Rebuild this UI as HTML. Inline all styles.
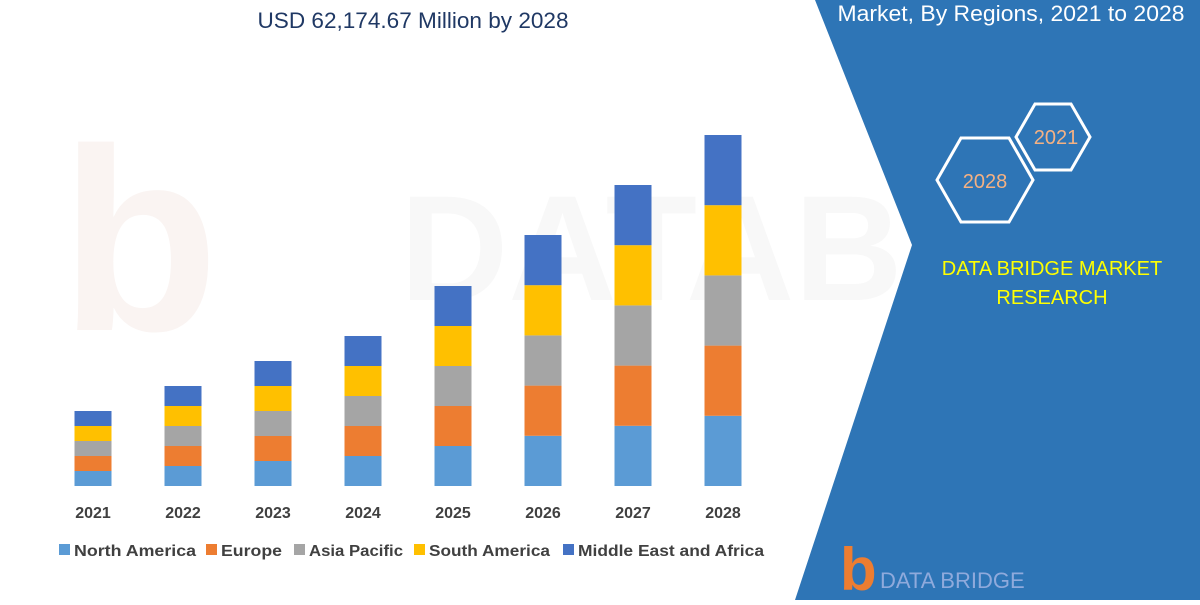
<!DOCTYPE html>
<html><head><meta charset="utf-8"><style>
body{margin:0;width:1200px;height:600px;overflow:hidden;background:#fff;font-family:"Liberation Sans",sans-serif}
</style></head><body>
<svg width="1200" height="600" xmlns="http://www.w3.org/2000/svg">
<rect width="1200" height="600" fill="#fff"/>
<text x="60" y="330" font-size="260" fill="#faf4f2" font-weight="bold">b</text>
<text x="400" y="300" font-size="150" fill="#f8f8f8" font-weight="bold">DATABRIDGE</text>
<polygon points="815,0 1200,0 1200,600 795,600 912,245" fill="#2e75b6"/>
<text x="413" y="28" font-size="22" fill="#1f3864" text-anchor="middle" textLength="311" lengthAdjust="spacingAndGlyphs">USD 62,174.67 Million by 2028</text>
<text x="1011" y="21" font-size="22" fill="#fff" text-anchor="middle" textLength="347" lengthAdjust="spacingAndGlyphs">Market,  By Regions, 2021 to 2028</text>
<polygon points="937,180 961,138 1009,138 1033,180 1009,222 961,222" fill="none" stroke="#fff" stroke-width="3"/>
<polygon points="1016,137 1035,104 1071,104 1090,137 1071,170 1035,170" fill="none" stroke="#fff" stroke-width="3"/>
<text x="985" y="188" font-size="20" fill="#f4b183" text-anchor="middle">2028</text>
<text x="1056" y="144" font-size="20" fill="#f4b183" text-anchor="middle">2021</text>
<text x="1052" y="275" font-size="20" fill="#ffff00" text-anchor="middle">DATA BRIDGE MARKET</text>
<text x="1052" y="304" font-size="20" fill="#ffff00" text-anchor="middle">RESEARCH</text>
<g id="bars"></g>
<g font-size="16" font-weight="bold" fill="#404040" text-anchor="middle">
<text x="93" y="518">2021</text><text x="183" y="518">2022</text><text x="273" y="518">2023</text><text x="363" y="518">2024</text><text x="453" y="518">2025</text><text x="543" y="518">2026</text><text x="633" y="518">2027</text><text x="723" y="518">2028</text>
</g>
<g font-size="16" font-weight="bold" fill="#404040">
<rect x="59" y="544" width="11" height="11" fill="#5b9bd5"/><text x="74" y="556" textLength="122" lengthAdjust="spacingAndGlyphs">North America</text>
<rect x="206" y="544" width="11" height="11" fill="#ed7d31"/><text x="221" y="556" textLength="61" lengthAdjust="spacingAndGlyphs">Europe</text>
<rect x="294" y="544" width="11" height="11" fill="#a5a5a5"/><text x="309" y="556" textLength="94" lengthAdjust="spacingAndGlyphs">Asia Pacific</text>
<rect x="414" y="544" width="11" height="11" fill="#ffc000"/><text x="429" y="556" textLength="121" lengthAdjust="spacingAndGlyphs">South America</text>
<rect x="563" y="544" width="11" height="11" fill="#4472c4"/><text x="578" y="556" textLength="186" lengthAdjust="spacingAndGlyphs">Middle East and Africa</text>
</g>
<text x="840" y="590" font-size="60" font-weight="bold" fill="#ed7d31">b</text>
<text x="880" y="588" font-size="22" fill="#8faadc">DATA BRIDGE</text>
</svg>
<script>
var g=document.getElementById('bars'),cols=['#5b9bd5','#ed7d31','#a5a5a5','#ffc000','#4472c4'];
var segs=[15,20,25,30,40,50.2,60.2,70.2];
segs.forEach(function(s,i){var cx=93+90*i;for(var k=0;k<5;k++){var r=document.createElementNS('http://www.w3.org/2000/svg','rect');r.setAttribute('x',cx-18.5);r.setAttribute('y',486-s*(k+1));r.setAttribute('width',37);r.setAttribute('height',s);r.setAttribute('fill',cols[k]);g.appendChild(r);}});
</script>
</body></html>
